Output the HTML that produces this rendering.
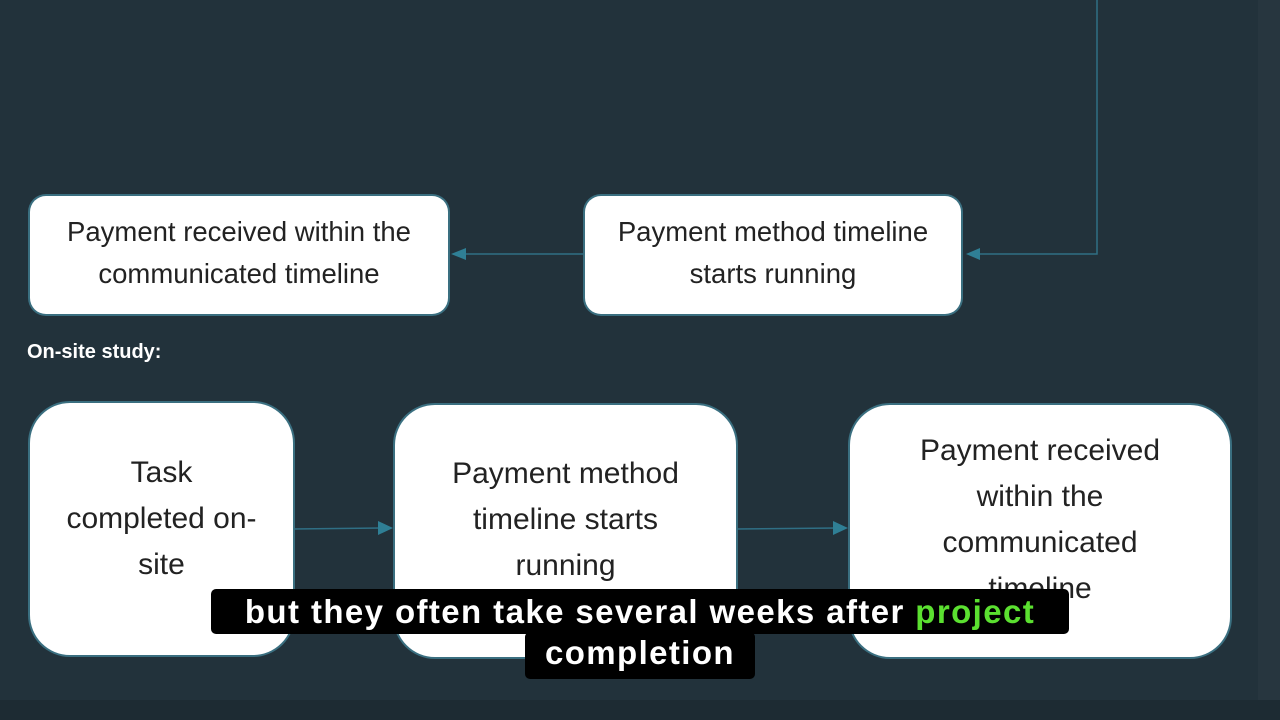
<!DOCTYPE html>
<html><head><style>
body{margin:0;width:1280px;height:720px;background:#22323b;position:relative;overflow:hidden;font-family:"Liberation Sans",sans-serif}
.b{position:absolute;background:#fff;display:flex;align-items:center;justify-content:center;text-align:center;color:#222;box-sizing:border-box;box-shadow:0 0 0 2px #3a6f80}
.t{font-size:27.5px;line-height:42px}
.l{font-size:30px;line-height:46px}
.s{position:absolute;background:#000;color:#fff;font-weight:bold;font-size:33px;letter-spacing:1.4px;text-align:center;border-radius:5px}
</style></head><body>
<div style="position:absolute;left:1258px;top:0;width:22px;height:720px;background:#27363f"></div>
<div style="position:absolute;left:0;top:700px;width:1280px;height:20px;background:#1d2b33"></div>
<svg width="1280" height="720" style="position:absolute;left:0;top:0">
<g stroke="#2f6f85" stroke-width="1.5" fill="none">
<polyline points="1097,0 1097,254 975,254"/>
<line x1="585" y1="254" x2="462" y2="254"/>
<line x1="293" y1="529" x2="382" y2="528"/>
<line x1="736" y1="529" x2="838" y2="528"/>
</g>
<g fill="#2f7f95">
<polygon points="966,254 980,248 980,260"/>
<polygon points="451,254 466,248 466,260"/>
<polygon points="393,528 378,521 378,535"/>
<polygon points="848,528 833,521 833,535"/>
</g>
</svg>
<div class="b t" style="left:30px;top:196px;width:418px;height:118px;border-radius:16px;padding-bottom:4px">Payment received within the<br>communicated timeline</div>
<div class="b t" style="left:585px;top:196px;width:376px;height:118px;border-radius:16px;padding-bottom:4px">Payment method timeline<br>starts running</div>
<div style="position:absolute;left:27px;top:341px;color:#fff;font-weight:bold;font-size:20px">On-site study:</div>
<div class="b l" style="left:30px;top:403px;width:263px;height:252px;border-radius:40px;padding-bottom:20px">Task<br>completed on-<br>site</div>
<div class="b l" style="left:395px;top:405px;width:341px;height:252px;border-radius:40px;padding-bottom:22px">Payment method<br>timeline starts<br>running</div>
<div class="b l" style="left:850px;top:405px;width:380px;height:252px;border-radius:40px;padding-bottom:22px">Payment received<br>within the<br>communicated<br>timeline</div>
<div class="s" style="left:211px;top:589px;width:858px;height:45px;line-height:45px">but they often take several weeks after <span style="color:#5be030">project</span></div>
<div class="s" style="left:525px;top:632px;width:230px;height:47px;line-height:42px">completion</div>
</body></html>
